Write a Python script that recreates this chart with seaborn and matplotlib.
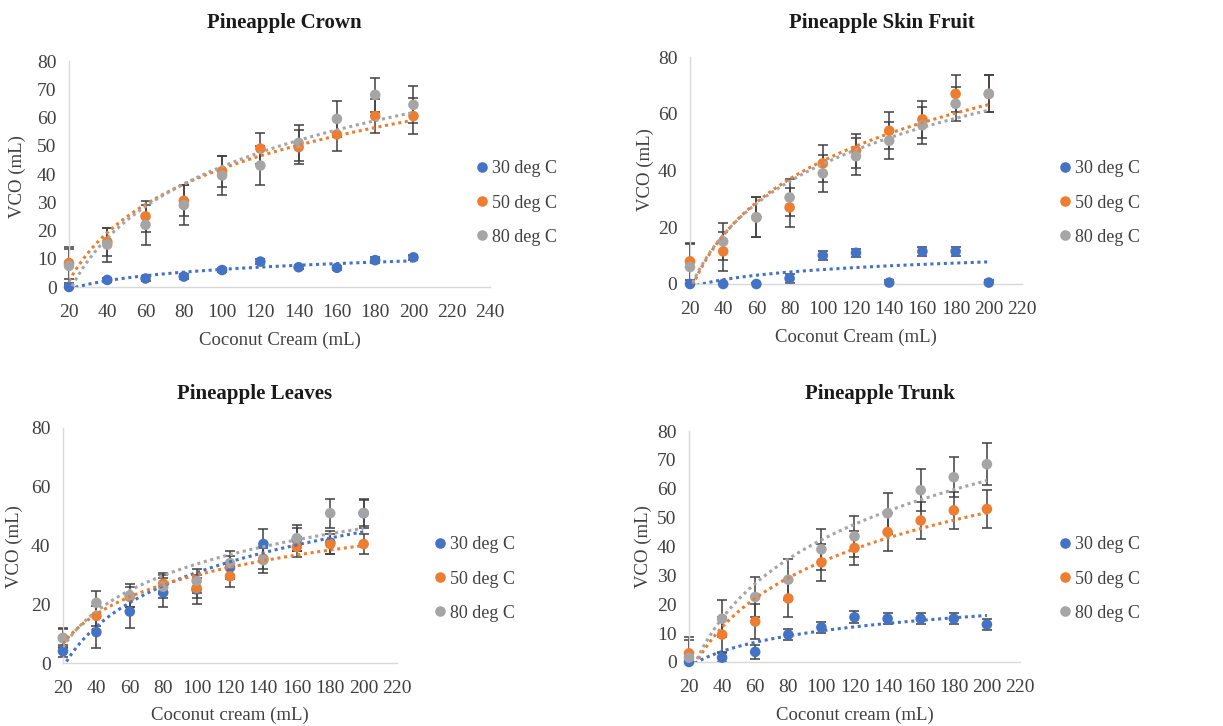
import numpy as np
import pandas as pd
import matplotlib
matplotlib.use('Agg')
import matplotlib.pyplot as plt
from matplotlib.patches import Rectangle
import seaborn as sns

sns.set_theme(style='white')
plt.rcParams['font.family'] = ['Liberation Serif', 'DejaVu Serif']

cream = [20, 40, 60, 80, 100, 120, 140, 160, 180, 200]
temps = ['30 deg C', '50 deg C', '80 deg C']
colors = ['#4472C4', '#ED7D31', '#A5A5A5']

# Pineapple Crown
crown_30 = [0, 2.5, 3, 3.7, 6, 9, 7, 6.8, 9.5, 10.5]
crown_50 = [8.5, 16, 25, 30.5, 41, 49, 49.5, 54, 60.5, 60.5]
crown_80 = [7.5, 15, 22, 29, 39.5, 43, 51, 59.5, 68, 64.5]
crown_30_err = [0.8, 0.8, 0.8, 0.8, 0.8, 1, 0.8, 0.8, 1, 1]
crown_50_err = [5.5, 5, 5.5, 5.5, 5.5, 5.5, 6, 6, 6, 6.5]
crown_80_err = [6, 6, 7, 7, 7, 7, 6.5, 6.5, 6, 6.5]

# Pineapple Skin Fruit
skin_30 = [0, 0, 0, 2, 10, 11, 0.5, 11.5, 11.5, 0.5]
skin_50 = [8, 11.5, 23.5, 27, 42.5, 47, 54, 58, 67, 67]
skin_80 = [6, 15, 23.5, 30.5, 39, 45, 50.5, 56, 63.5, 67]
skin_30_err = [0.5, 0.5, 0.5, 1.5, 1.5, 1.5, 1, 1.5, 1.5, 1]
skin_50_err = [6.5, 7, 7, 7, 6.5, 6, 6.5, 6.5, 6.5, 6.5]
skin_80_err = [8, 6.5, 7, 6.5, 6.5, 6.5, 6.5, 6.5, 6, 6.5]

# Pineapple Leaves
leaves_30 = [4, 10.5, 17.5, 24, 25, 32.5, 40.5, 42, 41, 51]
leaves_50 = [8.5, 16, 22.5, 27, 25.5, 29.5, 35.5, 39.5, 40.5, 40.5]
leaves_80 = [8.5, 20.5, 23, 26, 28, 34, 35, 42.5, 51, 51]
leaves_30_err = [2, 5.5, 5.5, 5, 5, 4, 5, 4, 4, 4.5]
leaves_50_err = [3, 3.5, 3.5, 3.5, 3.5, 3.5, 3.5, 3.5, 3.5, 3.5]
leaves_80_err = [3.5, 4, 4, 4, 4, 4, 4.5, 4.5, 5, 5]

# Pineapple Trunk
trunk_30 = [0, 1.5, 3.5, 9.5, 12, 15.5, 15, 15, 15, 13]
trunk_50 = [3, 9.5, 14, 22, 34.5, 39.5, 45, 49, 52.5, 53]
trunk_80 = [1.5, 15, 22.5, 28.5, 39, 43.5, 51.5, 59.5, 64, 68.5]
trunk_30_err = [1, 1.5, 2.5, 2, 2, 2, 2, 2, 2, 2]
trunk_50_err = [5.5, 6, 6, 6.5, 6.5, 6, 6.5, 6.5, 6.5, 6.5]
trunk_80_err = [6, 6.5, 7, 7, 7, 7, 7, 7.2, 7, 7.2]

W, H = 1223, 726
fig = plt.figure(figsize=(W / 100, H / 100), dpi=100)


def px_axes(left, top, right, bottom):
    return fig.add_axes([left / W, 1 - bottom / H, (right - left) / W, (bottom - top) / H])


def panel(ax, vals, errs, xmax, ystep, title, title_xy, xlabel, xlabel_xy, ylabel_xy, leg_xy):
    df = pd.DataFrame({
        'cream': cream * 3,
        'vco': vals[0] + vals[1] + vals[2],
        'temp': np.repeat(temps, len(cream)),
    })
    # error bars may stick out to the left but stop at the x axis
    clip = Rectangle((-0.1, 0), 1.2, 1.2, transform=ax.transAxes)
    for v, e, c in zip(vals, errs, colors):
        eb = ax.errorbar(cream, v, yerr=e, fmt='none', ecolor='#404040',
                         elinewidth=1.1, capsize=3.5, capthick=1.1, zorder=2)
        for a in list(eb.lines[1]) + list(eb.lines[2]):
            a.set_clip_path(clip)
    sns.scatterplot(data=df, x='cream', y='vco', hue='temp', palette=colors,
                    s=58, edgecolor='none', ax=ax, zorder=3, clip_on=False)
    for v, c in zip(vals, colors):
        sns.regplot(x=cream, y=v, logx=True, ci=None, scatter=False, ax=ax,
                    line_kws=dict(color=c, ls=(0, (1, 1.2)), lw=2.2, zorder=4))
    ax.set_xlim(20, xmax)
    ax.set_ylim(0, 80)
    ax.set_xticks(range(20, xmax + 1, 20))
    ax.set_yticks(range(0, 81, ystep))
    ax.set_xlabel('')
    ax.set_ylabel('')
    for s in ['top', 'right']:
        ax.spines[s].set_visible(False)
    for s in ['left', 'bottom']:
        ax.spines[s].set_color('#d9d9d9')
        ax.spines[s].set_linewidth(1)
    ax.tick_params(length=0, labelsize=14, colors='#404040')
    ax.tick_params(axis='x', pad=12)
    ax.tick_params(axis='y', pad=9)
    fig.text(title_xy[0] / W, 1 - title_xy[1] / H, title, ha='center', va='center',
             fontsize=15, fontweight='bold', color='#1a1a1a')
    fig.text(xlabel_xy[0] / W, 1 - xlabel_xy[1] / H, xlabel, ha='center', va='center',
             fontsize=13.5, color='#404040')
    fig.text(ylabel_xy[0] / W, 1 - ylabel_xy[1] / H, 'VCO (mL)', ha='center', va='center',
             fontsize=13.5, color='#404040', rotation=90)
    sns.move_legend(ax, loc='center left', bbox_to_anchor=(leg_xy[0] / W, 1 - leg_xy[1] / H),
                    bbox_transform=fig.transFigure, title=None, frameon=False,
                    fontsize=13, borderpad=0, handlelength=0.6, handletextpad=0.25,
                    labelspacing=0.95, labelcolor='#404040')


ax1 = px_axes(69, 61, 490, 287)
panel(ax1, [crown_30, crown_50, crown_80], [crown_30_err, crown_50_err, crown_80_err],
      240, 10, 'Pineapple Crown', (284, 23), 'Coconut Cream (mL)', (280, 340), (17, 177), (468, 203))

ax2 = px_axes(690, 57, 1022, 284)
panel(ax2, [skin_30, skin_50, skin_80], [skin_30_err, skin_50_err, skin_80_err],
      220, 20, 'Pineapple Skin Fruit', (882, 23), 'Coconut Cream (mL)', (856, 337), (645, 170), (1051, 203))

ax3 = px_axes(63, 428, 397, 663)
panel(ax3, [leaves_30, leaves_50, leaves_80], [leaves_30_err, leaves_50_err, leaves_80_err],
      220, 20, 'Pineapple Leaves', (255, 394), 'Coconut cream (mL)', (230, 715), (14, 547), (426, 579))

ax4 = px_axes(689, 431, 1020, 662)
panel(ax4, [trunk_30, trunk_50, trunk_80], [trunk_30_err, trunk_50_err, trunk_80_err],
      220, 10, 'Pineapple Trunk', (880, 394), 'Coconut cream (mL)', (855, 715), (643, 547), (1051, 579))

fig.savefig('out.png', dpi=100)
